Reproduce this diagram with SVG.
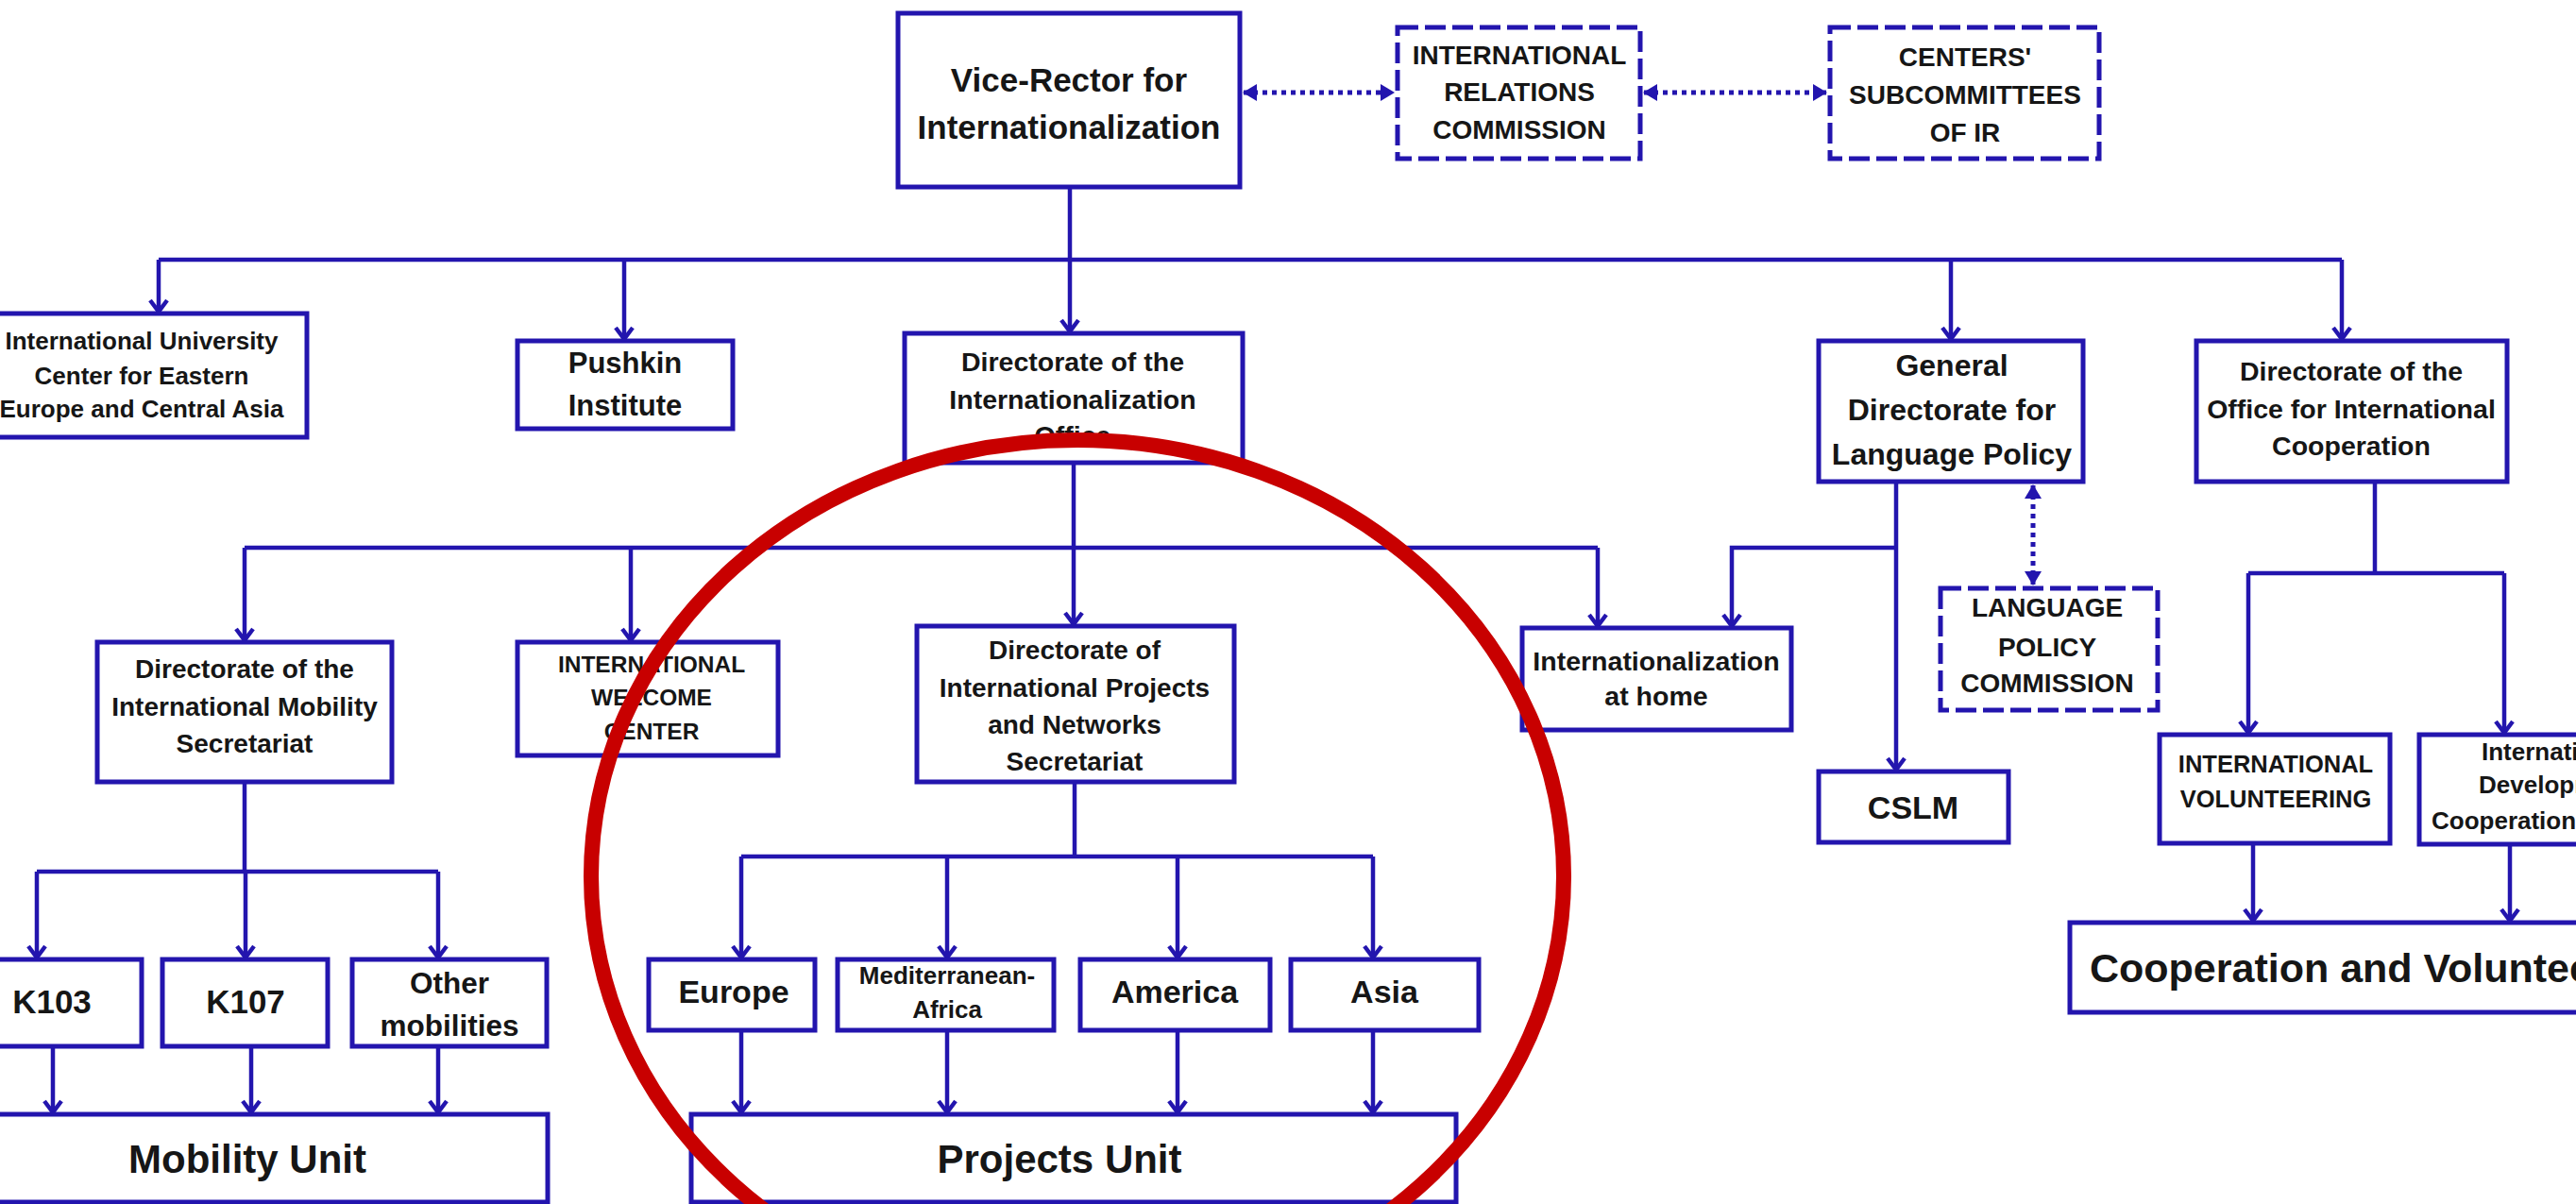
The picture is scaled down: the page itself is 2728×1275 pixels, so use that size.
<svg xmlns="http://www.w3.org/2000/svg" width="2728" height="1275" viewBox="0 0 2728 1275">
<style>
.box{fill:#fff;stroke:#2315ae;stroke-width:5}
.dbox{fill:#fff;stroke:#2315ae;stroke-width:5;stroke-dasharray:22 7}
.ln{fill:none;stroke:#2315ae;stroke-width:4.5}
.ar{marker-end:url(#ah)}
.dot{fill:none;stroke:#2315ae;stroke-width:5;stroke-dasharray:5 5;marker-start:url(#tri);marker-end:url(#tri)}
text{font-family:"Liberation Sans",Arial,sans-serif;font-weight:bold;fill:#161616;text-anchor:middle}
.st{text-anchor:start}
</style>
<defs>
<marker id="ah" viewBox="-3 -12 17 24" refX="12" refY="0" markerWidth="17" markerHeight="24" markerUnits="userSpaceOnUse" orient="auto">
<path d="M0,-9 L12,0 L0,9" fill="none" stroke="#2315ae" stroke-width="4.5"/>
</marker>
<marker id="tri" viewBox="0 -10 15 20" refX="14" refY="0" markerWidth="15" markerHeight="20" markerUnits="userSpaceOnUse" orient="auto-start-reverse">
<path d="M0,-9 L15,0 L0,9 z" fill="#2315ae"/>
</marker>
</defs>
<rect x="0" y="0" width="2728" height="1275" fill="#fff"/>

<g id="connectors">
<path class="ln" d="M1133,198 V275"/>
<path class="ln" d="M168,275 H2480"/>
<path class="ln ar" d="M168,275 V330"/>
<path class="ln ar" d="M661,275 V359"/>
<path class="ln ar" d="M1133,275 V351"/>
<path class="ln ar" d="M2066,275 V359"/>
<path class="ln ar" d="M2480,275 V359"/>
<path class="dot" d="M1317,98 H1476"/>
<path class="dot" d="M1741,98 H1934"/>
<path class="ln ar" d="M1137,490 V661"/>
<path class="ln" d="M259,580 H1692"/>
<path class="ln ar" d="M259,580 V678"/>
<path class="ln ar" d="M668,580 V678"/>
<path class="ln ar" d="M1692,580 V663"/>
<path class="ln ar" d="M2008,510 V815"/>
<path class="ln ar" d="M2008,580 H1834 V663"/>
<path class="dot" d="M2153,514 V619"/>
<path class="ln" d="M2515,510 V607"/>
<path class="ln" d="M2381,607 H2652"/>
<path class="ln ar" d="M2381,607 V776"/>
<path class="ln ar" d="M2652,607 V776"/>
<path class="ln ar" d="M2386,893 V975"/>
<path class="ln ar" d="M2658,894 V975"/>
<path class="ln" d="M259,828 V923"/>
<path class="ln" d="M39,923 H464"/>
<path class="ln ar" d="M39,923 V1014"/>
<path class="ln ar" d="M260,923 V1014"/>
<path class="ln ar" d="M464,923 V1014"/>
<path class="ln ar" d="M56,1108 V1178"/>
<path class="ln ar" d="M266,1108 V1178"/>
<path class="ln ar" d="M464,1108 V1178"/>
<path class="ln" d="M1138,828 V907"/>
<path class="ln" d="M785,907 H1454"/>
<path class="ln ar" d="M785,907 V1014"/>
<path class="ln ar" d="M1003,907 V1014"/>
<path class="ln ar" d="M1247,907 V1014"/>
<path class="ln ar" d="M1454,907 V1014"/>
<path class="ln ar" d="M785,1091 V1178"/>
<path class="ln ar" d="M1003,1091 V1178"/>
<path class="ln ar" d="M1247,1091 V1178"/>
<path class="ln ar" d="M1454,1091 V1178"/>
</g>

<g id="vice-rector"><rect class="box" x="951" y="14" width="362" height="184"/>
<text x="1132" y="97" font-size="35">Vice-Rector for</text><text x="1132" y="147" font-size="35">Internationalization</text></g>

<g id="irc"><rect class="dbox" x="1480" y="29" width="257" height="139"/>
<text x="1609" y="68" font-size="28">INTERNATIONAL</text><text x="1609" y="107" font-size="28">RELATIONS</text><text x="1609" y="147" font-size="28">COMMISSION</text></g>

<g id="centers"><rect class="dbox" x="1938" y="29" width="285" height="139"/>
<text x="2081" y="70" font-size="28">CENTERS'</text><text x="2081" y="110" font-size="28">SUBCOMMITTEES</text><text x="2081" y="150" font-size="28">OF IR</text></g>

<g id="intl-univ"><rect class="box" x="-25" y="332" width="350" height="131"/>
<text x="150" y="370" font-size="26">International University</text><text x="150" y="407" font-size="26">Center for Eastern</text><text x="150" y="442" font-size="26">Europe and Central Asia</text></g>

<g id="pushkin"><rect class="box" x="548" y="361" width="228" height="93"/>
<text x="662" y="395" font-size="31">Pushkin</text><text x="662" y="440" font-size="31">Institute</text></g>

<g id="dir-intl-office"><rect class="box" x="958" y="353" width="358" height="137"/>
<text x="1136" y="393" font-size="28.5">Directorate of the</text><text x="1136" y="433" font-size="28.5">Internationalization</text><text x="1136" y="471" font-size="28.5">Office</text></g>

<g id="general"><rect class="box" x="1926" y="361" width="280" height="149"/>
<text x="2067" y="398" font-size="32">General</text><text x="2067" y="445" font-size="32">Directorate for</text><text x="2067" y="492" font-size="32">Language Policy</text></g>

<g id="office-coop"><rect class="box" x="2326" y="361" width="329" height="149"/>
<text x="2490" y="403" font-size="28.5">Directorate of the</text><text x="2490" y="443" font-size="28.5">Office for International</text><text x="2490" y="482" font-size="28.5">Cooperation</text></g>

<g id="mobility-sec"><rect class="box" x="103" y="680" width="312" height="148"/>
<text x="259" y="718" font-size="28">Directorate of the</text><text x="259" y="758" font-size="28">International Mobility</text><text x="259" y="797" font-size="28">Secretariat</text></g>

<g id="welcome"><rect class="box" x="548" y="680" width="276" height="120"/>
<text x="690" y="712" font-size="24.5">INTERNATIONAL</text><text x="690" y="747" font-size="24.5">WELCOME</text><text x="690" y="783" font-size="24.5">CENTER</text></g>

<g id="projects-sec"><rect class="box" x="971" y="663" width="336" height="165"/>
<text x="1138" y="698" font-size="28">Directorate of</text><text x="1138" y="738" font-size="28">International Projects</text><text x="1138" y="777" font-size="28">and Networks</text><text x="1138" y="816" font-size="28">Secretariat</text></g>

<g id="at-home"><rect class="box" x="1612" y="665" width="285" height="108"/>
<text x="1754" y="710" font-size="28.5">Internationalization</text><text x="1754" y="747" font-size="28.5">at home</text></g>

<g id="lang-comm"><rect class="dbox" x="2055" y="623" width="230" height="129"/>
<text x="2168" y="653" font-size="28">LANGUAGE</text><text x="2168" y="695" font-size="28">POLICY</text><text x="2168" y="733" font-size="28">COMMISSION</text></g>

<g id="cslm"><rect class="box" x="1926" y="817" width="201" height="75"/>
<text x="2026" y="867" font-size="34">CSLM</text></g>

<g id="volunteering"><rect class="box" x="2287" y="778" width="244" height="115"/>
<text x="2410" y="818" font-size="25.5">INTERNATIONAL</text><text x="2410" y="855" font-size="25.5">VOLUNTEERING</text></g>

<g id="development"><rect class="box" x="2562" y="778" width="200" height="116"/>
<text class="st" x="2628" y="805" font-size="26">International</text><text class="st" x="2625" y="840" font-size="26">Development</text><text class="st" x="2575" y="878" font-size="26">Cooperation</text></g>

<g id="k103"><rect class="box" x="-40" y="1016" width="190" height="92"/>
<text x="55" y="1073" font-size="35">K103</text></g>
<g id="k107"><rect class="box" x="172" y="1016" width="175" height="92"/>
<text x="260" y="1073" font-size="35">K107</text></g>
<g id="other-mob"><rect class="box" x="373" y="1016" width="206" height="92"/>
<text x="476" y="1052" font-size="31.5">Other</text><text x="476" y="1097" font-size="31.5">mobilities</text></g>
<g id="mobility-unit"><rect class="box" x="-40" y="1180" width="620" height="93"/>
<text x="262" y="1242" font-size="42">Mobility Unit</text></g>

<g id="europe"><rect class="box" x="687" y="1016" width="176" height="75"/>
<text x="777" y="1062" font-size="34">Europe</text></g>
<g id="med-africa"><rect class="box" x="887" y="1016" width="229" height="75"/>
<text x="1003" y="1042" font-size="26">Mediterranean-</text><text x="1003" y="1078" font-size="26">Africa</text></g>
<g id="america"><rect class="box" x="1144" y="1016" width="201" height="75"/>
<text x="1244" y="1062" font-size="34">America</text></g>
<g id="asia"><rect class="box" x="1367" y="1016" width="199" height="75"/>
<text x="1466" y="1062" font-size="34">Asia</text></g>
<g id="projects-unit"><rect class="box" x="732" y="1180" width="810" height="93"/>
<text x="1122" y="1242" font-size="42">Projects Unit</text></g>

<g id="coop-unit"><rect class="box" x="2192" y="977" width="570" height="95"/>
<text class="st" x="2213" y="1040" font-size="43">Cooperation and Volunteering</text></g>

<ellipse id="highlight" cx="1141" cy="928" rx="515" ry="462" fill="none" stroke="#c80000" stroke-width="16"/>
</svg>
